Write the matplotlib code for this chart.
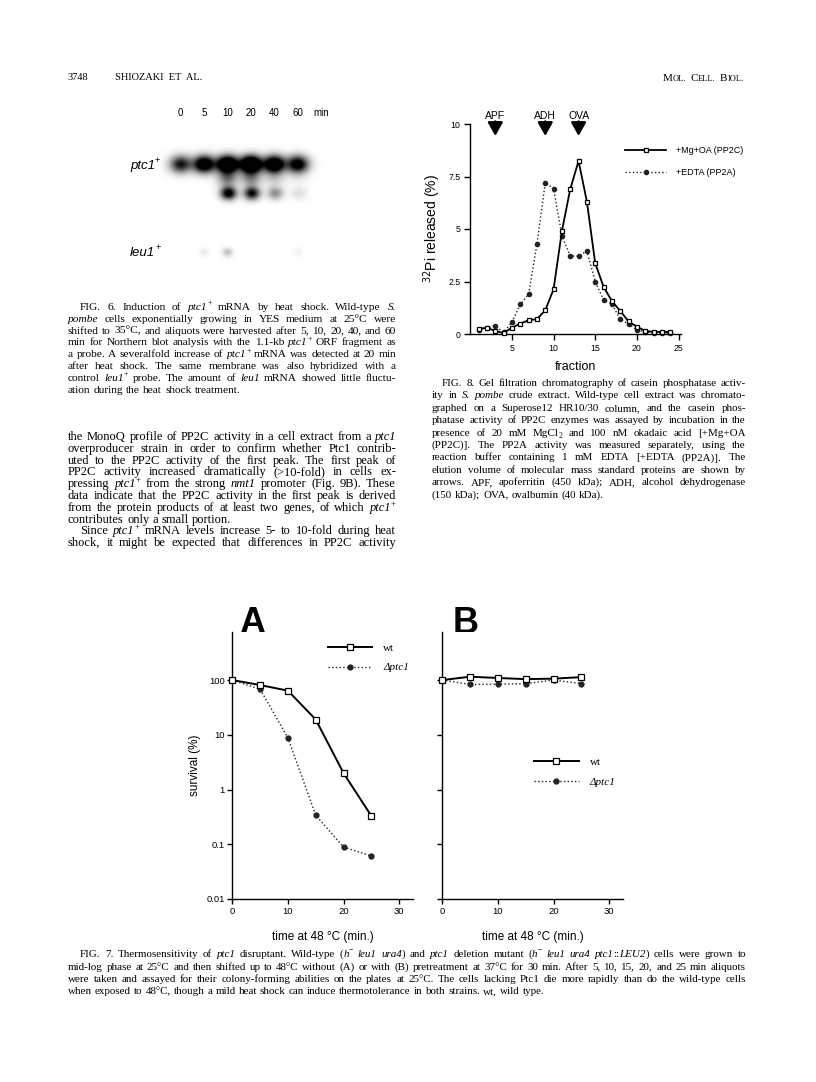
import numpy as np
import matplotlib
matplotlib.use("Agg")
import matplotlib.pyplot as plt

W, H = 816, 1082
SERIF = "Liberation Serif"
SANS = "Liberation Sans"

# Fig. 6 - northern blot (relative band strength per lane)
blot_lanes = ["0", "5", "10", "20", "40", "60"]
ptc1_main = [0.75, 1.1, 1.35, 1.45, 1.2, 0.95]
ptc1_low = [0.0, 0.0, 0.9, 0.8, 0.35, 0.1]
leu1_band = [0.0, 0.06, 0.2, 0.0, 0.0, 0.04]

# Fig. 8 - gel filtration profile
fractions = list(range(1, 25))
pp2c = [0.24, 0.3, 0.14, 0.05, 0.3, 0.5, 0.65, 0.71, 1.13, 2.13, 4.9, 6.9,
        8.24, 6.3, 3.37, 2.25, 1.57, 1.1, 0.6, 0.35, 0.15, 0.1, 0.1, 0.1]
pp2a = [0.2, 0.3, 0.38, 0.08, 0.56, 1.41, 1.89, 4.27, 7.2, 6.92, 4.68, 3.71,
        3.71, 3.95, 2.5, 1.62, 1.43, 0.7, 0.48, 0.2, 0.1, 0.05, 0.05, 0.05]
std_names = ["APF", "ADH", "OVA"]
std_fraction = [3, 9, 13]

# Fig. 7 - survival after heat shock
times = [0, 5, 10, 15, 20, 25]
surv_a_wt = [100, 81, 64, 19, 2.0, 0.33]
surv_a_del = [100, 68, 8.8, 0.34, 0.089, 0.061]
surv_b_wt = [100, 115, 109, 104, 106, 113]
surv_b_del = [100, 83, 84, 86, 100, 86]

fig6_caption = [
    "FIG. 6. Induction of *ptc1*^+ mRNA by heat shock. Wild-type *S.*",
    "*pombe* cells exponentially growing in YES medium at 25°C were",
    "shifted to 35°C, and aliquots were harvested after 5, 10, 20, 40, and 60",
    "min for Northern blot analysis with the 1.1-kb *ptc1*^+ ORF fragment as",
    "a probe. A severalfold increase of *ptc1*^+ mRNA was detected at 20 min",
    "after heat shock. The same membrane was also hybridized with a",
    "control *leu1*^+ probe. The amount of *leu1* mRNA showed little fluctu-",
    "ation during the heat shock treatment.",
]
body_text = [
    "the MonoQ profile of PP2C activity in a cell extract from a *ptc1*",
    "overproducer strain in order to confirm whether Ptc1 contrib-",
    "uted to the PP2C activity of the first peak. The first peak of",
    "PP2C activity increased dramatically (>10-fold) in cells ex-",
    "pressing *ptc1*^+ from the strong *nmt1* promoter (Fig. 9B). These",
    "data indicate that the PP2C activity in the first peak is derived",
    "from the protein products of at least two genes, of which *ptc1*^+",
    "contributes only a small portion.",
    "Since *ptc1*^+ mRNA levels increase 5- to 10-fold during heat",
    "shock, it might be expected that differences in PP2C activity",
]
fig8_caption = [
    "FIG. 8. Gel filtration chromatography of casein phosphatase activ-",
    "ity in *S.* *pombe* crude extract. Wild-type cell extract was chromato-",
    "graphed on a Superose12 HR10/30 column, and the casein phos-",
    "phatase activity of PP2C enzymes was assayed by incubation in the",
    "presence of 20 mM MgCl_2 and 100 nM okadaic acid [+Mg+OA",
    "(PP2C)]. The PP2A activity was measured separately, using the",
    "reaction buffer containing 1 mM EDTA [+EDTA (PP2A)]. The",
    "elution volume of molecular mass standard proteins are shown by",
    "arrows. APF, apoferritin (450 kDa); ADH, alcohol dehydrogenase",
    "(150 kDa); OVA, ovalbumin (40 kDa).",
]
fig7_caption = [
    "FIG. 7. Thermosensitivity of *ptc1* disruptant. Wild-type (*h*^\u2212 *leu1* *ura4*) and *ptc1* deletion mutant (*h*^\u2212 *leu1* *ura4* *ptc1*::*LEU2*) cells were grown to",
    "mid-log phase at 25°C and then shifted up to 48°C without (A) or with (B) pretreatment at 37°C for 30 min. After 5, 10, 15, 20, and 25 min aliquots",
    "were taken and assayed for their colony-forming abilities on the plates at 25°C. The cells lacking Ptc1 die more rapidly than do the wild-type cells",
    "when exposed to 48°C, though a mild heat shock can induce thermotolerance in both strains. wt, wild type.",
]

fig = plt.figure(figsize=(W / 100, H / 100), dpi=100)
page = fig.add_axes([0, 0, 1, 1])
page.axis("off")
renderer = fig.canvas.get_renderer()


def box(x0, y0, x1, y1):
    return [x0 / W, 1 - y1 / H, (x1 - x0) / W, (y1 - y0) / H]


def segments(word):
    # *..* = italic, ^c = superscript char, _c = subscript char
    segs, buf, italic, i = [], "", False, 0
    while i < len(word):
        c = word[i]
        if c == "*":
            if buf:
                segs.append((buf, italic, 0))
                buf = ""
            italic = not italic
        elif c in "^_" and i + 1 < len(word):
            if buf:
                segs.append((buf, italic, 0))
                buf = ""
            segs.append((word[i + 1], False, 1 if c == "^" else -1))
            i += 1
        else:
            buf += c
        i += 1
    if buf:
        segs.append((buf, italic, 0))
    return segs


def put_line(line, x0, x1, y, size, justify=True, family=SERIF):
    px = size * 100 / 72
    words = []
    for w in line.split(" "):
        parts, wsum = [], 0
        for s, it, pos in segments(w):
            fs = size * (0.7 if pos else 1)
            dy = {1: -0.38, -1: 0.2, 0: 0}[pos] * px
            t = page.text(0, y + dy, s, fontsize=fs, family=family,
                          style="italic" if it else "normal",
                          va="baseline", ha="left")
            wd = t.get_window_extent(renderer=renderer).width
            parts.append((t, wsum))
            wsum += wd
        words.append((parts, wsum))
    total = sum(wd for _, wd in words)
    gap = 0.27 * px
    if justify and len(words) > 1:
        gap = (x1 - x0 - total) / (len(words) - 1)
    x = x0
    for parts, wd in words:
        for t, off in parts:
            t.set_x(x + off)
        x += wd + gap


def paragraph(lines, x0, x1, y0, step, size, indent=12, last=(), first_indent=(0,)):
    for i, line in enumerate(lines):
        xs = x0 + (indent if i in first_indent else 0)
        put_line(line, xs, x1, y0 + i * step, size, justify=i not in last)


# header
page.text(68, 80.5, "3748", fontsize=7.5, family=SERIF, va="baseline")
page.text(115, 80.5, "SHIOZAKI  ET  AL.", fontsize=7.5, family=SERIF, va="baseline")
runs = []
for word in ["MOL.", "CELL.", "BIOL."]:
    runs.append((word[0], 8.0))
    runs.append((word[1:], 6.0))
    runs.append(("  ", 6.0))
runs = runs[:-1]
xx = 663
for s, fs in runs:
    t = page.text(xx, 81, s, fontsize=fs, family=SERIF, va="baseline")
    xx += t.get_window_extent(renderer=renderer).width

# Fig. 6 blot drawn from band strengths
lane_x = [180.5 + i * 23.4 for i in range(len(blot_lanes))]
gx = np.arange(160, 330, 0.5)
gy = np.arange(135, 275, 0.5)
X, Y = np.meshgrid(gx, gy)
Z = np.zeros_like(X)
for cx, a, b, c in zip(lane_x, ptc1_main, ptc1_low, leu1_band):
    Z += a * np.exp(-0.5 * ((X - cx) / 7.5) ** 2 - 0.5 * ((Y - 164) / 6.0) ** 2)
    Z += 0.45 * b * np.exp(-0.5 * ((X - cx) / 7.0) ** 2 - 0.5 * ((Y - 178) / 6.0) ** 2)
    Z += b * np.exp(-0.5 * ((X - cx - 1) / 5.5) ** 2 - 0.5 * ((Y - 193) / 4.5) ** 2)
    Z += c * np.exp(-0.5 * ((X - cx) / 3.5) ** 2 - 0.5 * ((Y - 252) / 3.0) ** 2)
page.imshow(Z, cmap="gray_r", vmin=0, vmax=0.8, extent=(160, 330, 275, 135),
            origin="upper", interpolation="bilinear", zorder=1)
for cx, lab in zip(lane_x, blot_lanes):
    page.text(cx, 113, lab, fontsize=7, family=SANS, ha="center", va="center")
page.text(321.5, 113, "min", fontsize=7, family=SANS, ha="center", va="center")
put_line("*ptc1*^+", 130, 170, 168.5, 9.5, justify=False, family=SANS)
put_line("*leu1*^+", 130, 170, 255.5, 9.5, justify=False, family=SANS)

paragraph(fig6_caption, 68, 396, 310, 11.8, 8.2, last=(7,))
paragraph(body_text, 68, 396, 440, 11.8, 9.0, last=(7,), first_indent=(8,))
paragraph(fig8_caption, 432, 746, 386, 12.4, 7.9, indent=10, last=(9,))
paragraph(fig7_caption, 68, 746, 957, 12.5, 7.9, last=(3,))

page.set_xlim(0, W)
page.set_ylim(H, 0)
page.set_aspect("auto")

# Fig. 8 chart
ax8 = fig.add_axes(box(470.3, 124, 681, 334))
ax8.plot(fractions, pp2c, "-s", color="black", lw=1.3, ms=3.4, mfc="white",
         mew=0.9, label="+Mg+OA (PP2C)", clip_on=False, zorder=3)
ax8.plot(fractions, pp2a, ":o", color="#222222", lw=1.0, ms=3.0,
         label="+EDTA (PP2A)", clip_on=False, zorder=2)
ax8.set_xlim(0, 25.3)
ax8.set_ylim(0, 10)
ax8.set_xticks([5, 10, 15, 20, 25])
ax8.set_yticks([0, 2.5, 5, 7.5, 10])
ax8.set_yticklabels(["0", "2.5", "5", "7.5", "10"])
for s in ["top", "right"]:
    ax8.spines[s].set_visible(False)
for s in ["left", "bottom"]:
    ax8.spines[s].set_linewidth(1.0)
ax8.tick_params(direction="out", length=4, width=1.0, labelsize=6.3, pad=3)
for t in ax8.get_xticklabels() + ax8.get_yticklabels():
    t.set_family(SANS)
ax8.set_xlabel("fraction", fontsize=9, family=SANS, labelpad=6)
ax8.set_ylabel("$^{32}$Pi released (%)", fontsize=10, family=SANS, labelpad=4)
for name, f in zip(std_names, std_fraction):
    ax8.annotate("", xy=(f, 9.43), xytext=(f, 10.12),
                 arrowprops=dict(arrowstyle="-|>,head_length=0.8,head_width=0.45",
                                 color="black", lw=1.8, shrinkA=0, shrinkB=0,
                                 mutation_scale=10),
                 annotation_clip=False)
    ax8.text(f, 10.38, name, ha="center", va="center", fontsize=7.5,
             family=SANS, clip_on=False)
leg8 = ax8.legend(loc="upper left", bbox_to_anchor=(0.734, 0.895), frameon=False,
                  prop={"family": SANS, "size": 6.5}, handlelength=4.6,
                  handletextpad=1.0, borderpad=0, borderaxespad=0,
                  labelspacing=1.45, numpoints=1)


def survival_axes(x0, wt, dl, labels, leg_anchor, letter_x):
    ax = fig.add_axes(box(x0, 631.7, x0 + 180.7, 899))
    ax.plot(times, wt, "-s", color="black", lw=1.4, ms=4.2, mfc="white",
            mew=0.9, label="wt", clip_on=False, zorder=3)
    ax.plot(times, dl, ":o", color="#222222", lw=1.0, ms=3.5,
            label="\u0394ptc1", clip_on=False, zorder=2)
    ax.set_yscale("log")
    ax.set_xlim(0, 32.5)
    ax.set_ylim(0.01, 764)
    ax.set_xticks([0, 10, 20, 30])
    ax.set_yticks([0.01, 0.1, 1, 10, 100])
    ax.minorticks_off()
    if labels:
        ax.set_yticklabels(["0.01", "0.1", "1", "10", "100"])
        ax.set_ylabel("survival (%)", fontsize=8.5, family=SANS, labelpad=4)
    else:
        ax.set_yticklabels([])
    for s in ["top", "right"]:
        ax.spines[s].set_visible(False)
    for s in ["left", "bottom"]:
        ax.spines[s].set_linewidth(1.0)
    ax.tick_params(direction="out", length=3.5, width=1.0, labelsize=6.8, pad=2)
    for t in ax.get_xticklabels() + ax.get_yticklabels():
        t.set_family(SANS)
    ax.set_xlabel("time at 48 \u00b0C (min.)", fontsize=8.5, family=SANS, labelpad=11)
    leg = ax.legend(loc="upper left", bbox_to_anchor=leg_anchor, frameon=False,
                    prop={"family": SERIF, "size": 8}, handlelength=4.0,
                    handletextpad=1.0, borderpad=0, borderaxespad=0,
                    labelspacing=0.9, numpoints=1)
    leg.get_texts()[1].set_style("italic")
    page.text(letter_x, 633, "A" if labels else "B", fontsize=26,
              weight="bold", family=SANS, ha="center", va="baseline")
    return ax


survival_axes(232.3, surv_a_wt, surv_a_del, True, (0.528, 0.958), 252.5)
survival_axes(442.3, surv_b_wt, surv_b_del, False, (0.509, 0.53), 465.5)

fig.savefig("out.png", dpi=100, facecolor="white")
